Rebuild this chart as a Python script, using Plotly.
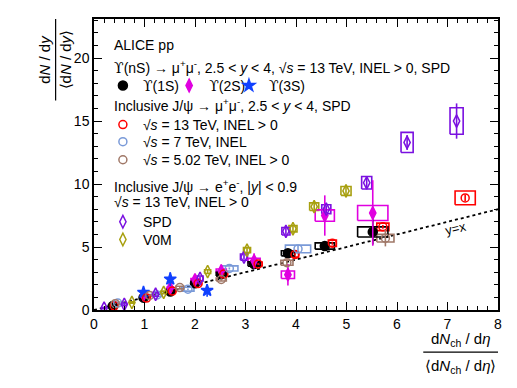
import plotly.graph_objects as go

FONT = "Liberation Sans, Arial, Helvetica, sans-serif"
UPS = "<span style=\"font-family:'DejaVu Serif'\">ϒ</span>"

# Upsilon(1S), forward rapidity, 13 TeV
ups1_x = [0.37, 0.98, 1.51, 2.0, 2.52, 3.17, 3.84, 4.57, 5.52]
ups1_y = [0.31, 0.98, 1.46, 2.12, 2.84, 3.65, 4.5, 5.08, 6.2]
ups1_stat = [0.08, 0.08, 0.1, 0.12, 0.15, 0.2, 0.25, 0.35, 1.0]
ups1_sx = [0.03, 0.05, 0.06, 0.08, 0.1, 0.12, 0.13, 0.19, 0.3]
ups1_sy = [0.03, 0.06, 0.08, 0.1, 0.15, 0.18, 0.2, 0.25, 0.4]

# Upsilon(2S)
ups2_x = [0.98, 1.51, 2.0, 2.52, 3.17, 3.84, 4.57, 5.52]
ups2_y = [1.2, 1.75, 2.4, 3.1, 3.9, 2.8, 7.5, 7.7]
ups2_stat = [0.3, 0.4, 0.35, 0.5, 0.6, 0.85, 1.6, 2.6]
ups2_sx = [0.05, 0.06, 0.08, 0.1, 0.12, 0.13, 0.19, 0.3]
ups2_sy = [0.05, 0.08, 0.1, 0.15, 0.2, 0.3, 0.45, 0.6]

# Upsilon(3S)
ups3_x = [0.98, 1.51, 2.24]
ups3_y = [1.4, 2.45, 1.55]
ups3_stat = [0.35, 0.55, 0.5]

# inclusive J/psi -> mu mu, 13 TeV INEL>0
jp13_x = [0.4, 1.04, 1.55, 2.06, 2.57, 3.25, 3.98, 4.72, 5.72, 7.35]
jp13_y = [0.33, 0.95, 1.5, 2.1, 2.85, 3.65, 4.4, 5.3, 6.6, 8.9]
jp13_stat = [0.02, 0.03, 0.04, 0.05, 0.06, 0.08, 0.1, 0.12, 0.15, 0.25]
jp13_sx = [0.04, 0.05, 0.06, 0.07, 0.07, 0.08, 0.07, 0.08, 0.12, 0.2]
jp13_sy = [0.03, 0.05, 0.07, 0.09, 0.12, 0.15, 0.2, 0.25, 0.3, 0.55]

# inclusive J/psi -> mu mu, 7 TeV INEL
jp7_x = [0.47, 1.25, 1.86, 2.68, 4.04]
jp7_y = [0.55, 1.2, 1.65, 3.3, 4.85]
jp7_stat = [0.04, 0.05, 0.06, 0.08, 0.3]
jp7_sx = [0.1, 0.1, 0.12, 0.17, 0.25]
jp7_sy = [0.08, 0.12, 0.15, 0.2, 0.3]

# inclusive J/psi -> mu mu, 5.02 TeV INEL>0
jp5_x = [0.42, 1.1, 1.7, 2.52, 3.82, 5.77]
jp5_y = [0.5, 1.15, 1.78, 2.42, 3.75, 5.7]
jp5_stat = [0.04, 0.05, 0.08, 0.1, 0.25, 0.65]
jp5_sx = [0.05, 0.06, 0.08, 0.1, 0.12, 0.17]
jp5_sy = [0.05, 0.07, 0.1, 0.12, 0.2, 0.3]

# inclusive J/psi -> ee, midrapidity, SPD estimator
spd_x = [0.2, 0.6, 1.22, 2.1, 2.97, 3.8, 4.6, 5.4, 6.2, 7.18]
spd_y = [0.15, 0.45, 1.25, 2.5, 4.2, 6.25, 8.0, 10.1, 13.3, 15.0]
spd_stat = [0.1, 0.1, 0.1, 0.15, 0.2, 0.25, 0.3, 0.4, 0.6, 1.4]
spd_sx = [0.03, 0.04, 0.05, 0.06, 0.07, 0.08, 0.09, 0.1, 0.12, 0.13]
spd_sy = [0.05, 0.1, 0.15, 0.2, 0.25, 0.3, 0.35, 0.5, 0.8, 1.05]

# inclusive J/psi -> ee, midrapidity, V0M estimator
v0m_x = [0.75, 1.38, 2.25, 3.03, 3.94, 4.36, 4.99]
v0m_y = [0.6, 1.4, 3.05, 4.75, 6.45, 8.2, 9.45]
v0m_stat = [0.1, 0.1, 0.15, 0.25, 0.3, 0.35, 0.5]
v0m_sx = [0.04, 0.05, 0.06, 0.07, 0.08, 0.09, 0.1]
v0m_sy = [0.06, 0.1, 0.15, 0.2, 0.25, 0.3, 0.35]

diag_x = [0, 8]
diag_y = [0, 8]

BLACK = "#000000"
MAGENTA = "#e000e0"
BLUE = "#1040ff"
RED = "#ff0000"
LBLUE = "#7a9ad8"
BROWN = "#a07868"
PURPLE = "#7a10e0"
OLIVE = "#a8a010"


def box_trace(xs, ys, dxs, dys, color):
    bx, by = [], []
    for x, y, dx, dy in zip(xs, ys, dxs, dys):
        bx += [x - dx, x + dx, x + dx, x - dx, x - dx, None]
        by += [y - dy, y - dy, y + dy, y + dy, y - dy, None]
    return go.Scatter(x=bx, y=by, mode="lines", line=dict(color=color, width=1.6),
                      showlegend=False, hoverinfo="skip")


def point_trace(xs, ys, err, color, symbol, size, name, legend, fill=None):
    return go.Scatter(
        x=xs, y=ys, mode="markers", name=name, legend=legend,
        marker=dict(color=fill or color, symbol=symbol, size=size,
                    line=dict(color=color, width=1.5)),
        error_y=dict(type="data", array=err, color=color, thickness=1.6, width=0),
    )


fig = go.Figure()

fig.add_trace(go.Scatter(x=diag_x, y=diag_y, mode="lines", showlegend=False,
                         line=dict(color="black", width=1.8, dash="3px,3px")))

fig.add_trace(box_trace(jp7_x, jp7_y, jp7_sx, jp7_sy, LBLUE))
fig.add_trace(box_trace(jp5_x, jp5_y, jp5_sx, jp5_sy, BROWN))
fig.add_trace(box_trace(jp13_x, jp13_y, jp13_sx, jp13_sy, RED))
fig.add_trace(box_trace(v0m_x, v0m_y, v0m_sx, v0m_sy, OLIVE))
fig.add_trace(box_trace(spd_x, spd_y, spd_sx, spd_sy, PURPLE))
fig.add_trace(box_trace(ups2_x, ups2_y, ups2_sx, ups2_sy, MAGENTA))
fig.add_trace(box_trace(ups1_x, ups1_y, ups1_sx, ups1_sy, BLACK))

fig.add_trace(point_trace(ups1_x, ups1_y, ups1_stat, BLACK, "circle", 9, UPS + "(1S)", "legend"))
fig.add_trace(point_trace(ups2_x, ups2_y, ups2_stat, MAGENTA, "diamond-tall", 9, UPS + "(2S)", "legend7"))
fig.add_trace(point_trace(ups3_x, ups3_y, ups3_stat, BLUE, "star", 9, UPS + "(3S)", "legend8"))

fig.add_trace(point_trace(jp13_x, jp13_y, jp13_stat, RED, "circle-open", 8,
                          "√<i>s</i> = 13 TeV, INEL > 0", "legend2"))
fig.add_trace(point_trace(jp7_x, jp7_y, jp7_stat, LBLUE, "circle-open", 8,
                          "√<i>s</i> = 7 TeV, INEL", "legend3"))
fig.add_trace(point_trace(jp5_x, jp5_y, jp5_stat, BROWN, "circle-open", 8,
                          "√<i>s</i> = 5.02 TeV, INEL > 0", "legend4"))

fig.add_trace(point_trace(spd_x, spd_y, spd_stat, PURPLE, "diamond-tall-open", 9, "SPD", "legend5"))
fig.add_trace(point_trace(v0m_x, v0m_y, v0m_stat, OLIVE, "diamond-tall-open", 9, "V0M", "legend6"))

axis_common = dict(
    showline=True, linecolor="black", linewidth=1.5, mirror="allticks",
    ticks="inside", ticklen=8, tickwidth=1.2, tickcolor="black",
    showgrid=False, zeroline=False,
    tickfont=dict(family=FONT, size=14, color="black"),
)
fig.update_xaxes(range=[0, 8], dtick=1, tick0=0,
                 minor=dict(dtick=0.2, ticks="inside", ticklen=4, tickwidth=1.1, tickcolor="black"),
                 **axis_common)
fig.update_yaxes(range=[0, 23.1], dtick=5, tick0=0,
                 minor=dict(dtick=1, ticks="inside", ticklen=4, tickwidth=1.1, tickcolor="black"),
                 **axis_common)

legend_common = dict(font=dict(family=FONT, size=14, color="black"), bgcolor="rgba(0,0,0,0)",
                     itemwidth=30, xanchor="left", yanchor="middle")
fig.update_layout(
    width=517, height=388,
    margin=dict(l=94, r=19, t=19, b=78),
    plot_bgcolor="white", paper_bgcolor="white",
    font=dict(family=FONT, size=14, color="black"),
    legend=dict(x=0.022, y=0.770, **legend_common),
    legend7=dict(x=0.186, y=0.770, **legend_common),
    legend8=dict(x=0.334, y=0.770, **legend_common),
    legend2=dict(x=0.022, y=0.636, **legend_common),
    legend3=dict(x=0.022, y=0.577, **legend_common),
    legend4=dict(x=0.022, y=0.515, **legend_common),
    legend5=dict(x=0.022, y=0.302, **legend_common),
    legend6=dict(x=0.022, y=0.241, **legend_common),
)

headers = [
    ("ALICE pp", 0.911),
    (UPS + "(nS) → μ<sup>+</sup>μ<sup>-</sup>, 2.5 < <i>y</i> < 4, √<i>s</i> = 13 TeV, INEL > 0, SPD", 0.835),
    ("Inclusive J/ψ → μ<sup>+</sup>μ<sup>-</sup>, 2.5 < <i>y</i> < 4, SPD", 0.704),
    ("Inclusive J/ψ → e<sup>+</sup>e<sup>-</sup>, |<i>y</i>| < 0.9", 0.426),
    ("√<i>s</i> = 13 TeV, INEL > 0", 0.371),
]
for txt, yy in headers:
    fig.add_annotation(text=txt, xref="paper", yref="paper", x=0.045, y=yy,
                       xanchor="left", yanchor="middle", showarrow=False,
                       font=dict(family=FONT, size=14, color="black"))

fig.add_annotation(text="y=x", x=7.15, y=6.5, textangle=-14, showarrow=False,
                   xanchor="center", yanchor="middle",
                   font=dict(family=FONT, size=13, color="black"))

# x-axis title as a fraction
title_font = dict(family=FONT, size=15, color="black")
fig.add_annotation(text="d<i>N</i><sub>ch</sub> / d<i>η</i>", xref="paper", yref="paper",
                   x=0.906, y=-0.102, xanchor="center", yanchor="middle",
                   showarrow=False, font=title_font)
fig.add_annotation(text="⟨d<i>N</i><sub>ch</sub> / d<i>η</i>⟩", xref="paper", yref="paper",
                   x=0.906, y=-0.195, xanchor="center", yanchor="middle",
                   showarrow=False, font=title_font)
fig.add_shape(type="line", xref="paper", yref="paper", x0=0.815, x1=1.0, y0=-0.145, y1=-0.145,
              line=dict(color="black", width=1.2))

# y-axis title as a fraction
fig.add_annotation(text="d<i>N</i> / d<i>y</i>", xref="paper", yref="paper",
                   x=-0.121, y=0.86, textangle=-90, xanchor="center", yanchor="middle",
                   showarrow=False, font=title_font)
fig.add_annotation(text="⟨d<i>N</i> / d<i>y</i>⟩", xref="paper", yref="paper",
                   x=-0.07, y=0.86, textangle=-90, xanchor="center", yanchor="middle",
                   showarrow=False, font=title_font)
fig.add_shape(type="line", xref="paper", yref="paper", x0=-0.095, x1=-0.095, y0=0.72, y1=1.0,
              line=dict(color="black", width=1.2))

fig.write_html("out.html", config={"displayModeBar": False},
               post_script="document.body.style.margin='0px';")
